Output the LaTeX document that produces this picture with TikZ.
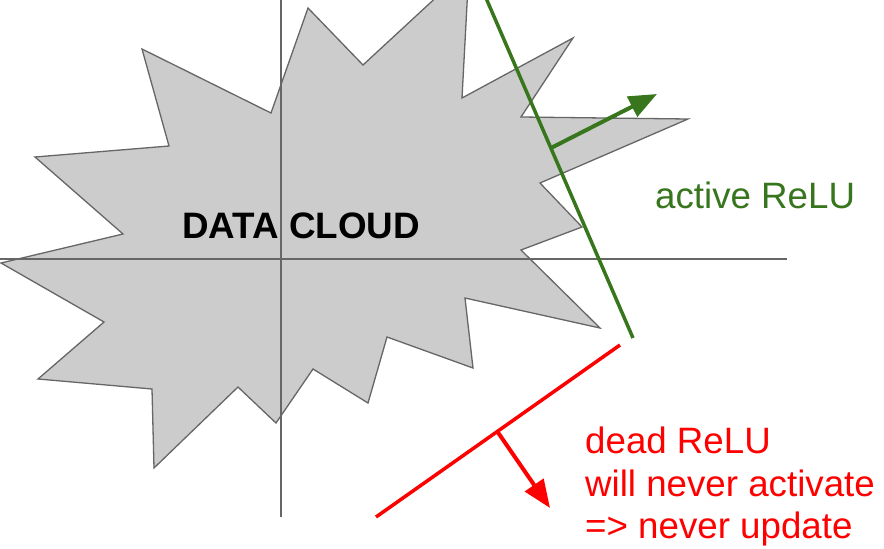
\documentclass[tikz,border=0pt]{standalone}
\usepackage{fontspec}
\setmainfont{Liberation Sans}
\usetikzlibrary{arrows.meta}
\definecolor{cloudfill}{HTML}{CCCCCC}
\definecolor{cloudline}{HTML}{666666}
\definecolor{relugreen}{HTML}{38761D}
\definecolor{relured}{HTML}{FF0000}
\tikzset{
  cloud/.style={fill=cloudfill, draw=cloudline, line width=1.3pt, line join=miter},
  axis/.style={draw=cloudline, line width=1.3pt},
  lbl/.style={inner sep=0pt, anchor=base west, font=\fontsize{36.7}{44}\selectfont},
  reluline/.style={line width=3.5pt},
  normal/.style={line width=4pt, -{Triangle[length=28pt,width=22pt]}},
}
\begin{document}
\begin{tikzpicture}[x=1pt,y=-1pt]
\useasboundingbox (0,0) rectangle (884,549);
\clip (0,0) rectangle (884,549);
% data cloud
\path[cloud] (1,263) -- (123,234) -- (35,157) -- (169,146) -- (142,49) -- (271,113)
  -- (308,8) -- (363,65) -- (469,-33) -- (462,98) -- (573,38) -- (521,117)
  -- (688,119) -- (540,183) -- (582,227) -- (521,250) -- (600,328) -- (465,298)
  -- (473,368) -- (387,337) -- (368,403) -- (313,369) -- (276,423) -- (238,387)
  -- (154,468) -- (152,389) -- (38,379) -- (104,322) -- cycle;
% axes
\coordinate (xl) at (0,259);
\coordinate (xr) at (787,259);
\coordinate (yt) at (281,0);
\coordinate (yb) at (281,517);
\draw[axis] (xl) -- (xr);
\draw[axis] (yt) -- (yb);
\node[lbl, font=\fontsize{36.8}{44}\selectfont\bfseries] (cloudlbl) at (182,238) {DATA CLOUD};
% active ReLU
\coordinate (ga) at (486,-2);
\coordinate (gb) at (633,338);
\coordinate (gs) at (551,148);
\coordinate (gt) at (657,94);
\draw[reluline, relugreen] (ga) -- (gb);
\draw[normal, relugreen] (gs) -- (gt);
\node[lbl, text=relugreen] (activelbl) at (655,208) {active ReLU};
% dead ReLU
\coordinate (ra) at (376,517);
\coordinate (rb) at (620,345);
\coordinate (rs) at (497,431);
\coordinate (rt) at (550,508);
\draw[reluline, relured] (ra) -- (rb);
\draw[normal, relured] (rs) -- (rt);
\node[lbl, text=relured] (dead1) at (585,453) {dead ReLU};
\node[lbl, text=relured] (dead2) at (585,496) {will never activate};
\node[lbl, text=relured] (dead3) at (585,538) {=> never update};
\end{tikzpicture}
\end{document}
